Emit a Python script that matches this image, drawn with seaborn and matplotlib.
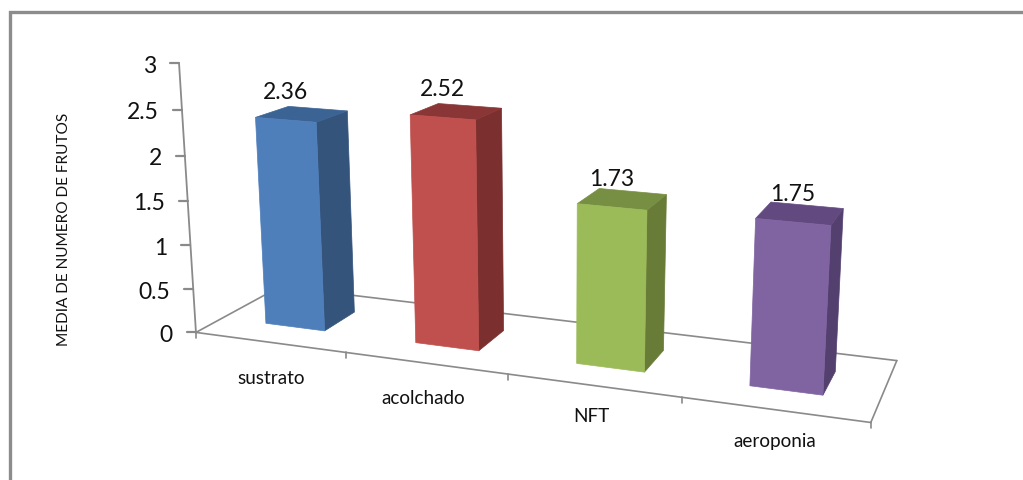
import numpy as np
import pandas as pd
import matplotlib
matplotlib.use("Agg")
import matplotlib.pyplot as plt
from matplotlib.patches import Polygon
from matplotlib.transforms import Transform
import seaborn as sns

# Chart data
categories = ["sustrato", "acolchado", "NFT", "aeroponia"]
values = [2.36, 2.52, 1.73, 1.75]
value_labels = ["2.36", "2.52", "1.73", "1.75"]
y_ticks = [0, 0.5, 1, 1.5, 2, 2.5, 3]
y_tick_labels = ["0", "0.5", "1", "1.5", "2", "2.5", "3"]
y_title = "MEDIA DE NUMERO DE FRUTOS"

# Face colours: front, side, top
front_colors = ["#4F7FBB", "#C0504D", "#9BBB59", "#8064A2"]
side_colors = ["#34547C", "#7C2F2F", "#687C38", "#54406F"]
top_colors = ["#3B6394", "#8A3636", "#778F42", "#624A80"]

# Perspective of the 3D box: (slot fraction, depth, value) -> canvas pixel
box_anchors = [
    ((0, 0, 0), (197, 334)),
    ((0, 0, 0), (197, 334)),
    ((0.25, 0, 0), (345, 354)),
    ((0.5, 0, 0), (506, 375)),
    ((0.75, 0, 0), (681, 398)),
    ((1, 0, 0), (872, 423)),
    ((1, 0, 0), (872, 423)),
    ((0, 1, 0), (280, 289)),
    ((1, 1, 0), (897, 360)),
    ((0, 0, 3), (179, 63)),
    ((0, 0, 3), (179, 63)),
    ((0, 0, 1.5), (188, 201)),
    ((1, 0, 3), (888, 116)),
]


def fit_camera(anchors):
    rows, rhs = [], []
    for (u, d, v), (px, py) in anchors:
        rows.append([u, d, v, 1, 0, 0, 0, 0, -px * u, -px * d, -px * v])
        rhs.append(px)
        rows.append([0, 0, 0, 0, u, d, v, 1, -py * u, -py * d, -py * v])
        rhs.append(py)
    sol = np.linalg.lstsq(np.array(rows, float), np.array(rhs, float), rcond=None)[0]
    return np.append(sol, 1.0).reshape(3, 4)


CAMERA = fit_camera(box_anchors)
N = len(categories)
DEPTH_FRONT, DEPTH_BACK = 0.30, 0.69


def project(c, d, v):
    """Category position, depth and value to canvas pixels."""
    c = np.atleast_1d(np.asarray(c, float))
    u = (c + 0.5) / N
    pts = np.stack([u, np.full_like(u, d), np.asarray(v, float) * np.ones_like(u), np.ones_like(u)], axis=-1)
    q = pts @ CAMERA.T
    return q[..., :2] / q[..., 2:]


def project_one(c, d, v):
    return project(c, d, v)[0]


class DepthPlane(Transform):
    """Maps (category position, value) onto a plane at a fixed depth of the box."""
    input_dims = 2
    output_dims = 2
    is_affine = False

    def __init__(self, plane_depth):
        super().__init__()
        self.plane_depth = plane_depth

    def transform_non_affine(self, points):
        points = np.asarray(points, float)
        return project(points[:, 0], self.plane_depth, points[:, 1])


sns.set_theme(style="white")
plt.rcParams["font.family"] = ["Lato", "DejaVu Sans"]

fig = plt.figure(figsize=(10.23, 4.81), dpi=100, facecolor="white")
ax = fig.add_axes([0, 0, 1, 1])

table = pd.DataFrame({"category": categories, "value": values})
sns.barplot(data=table, x="category", y="value", hue="category", order=categories,
            hue_order=categories, palette=front_colors, saturation=1, width=0.40,
            linewidth=0, legend=False, ax=ax, zorder=4)

front_plane = DepthPlane(DEPTH_FRONT) + ax.transData
line_grey = "#8A8A8A"

# Outer chart frame, open at the right and the bottom
ax.plot([10, 10, 1023], [481, 13, 13], color="#8C8C8C", lw=2.4, solid_joinstyle="miter", zorder=1)


def floor_line(a, b):
    pts = np.array([project_one(a[0], a[1], 0), project_one(b[0], b[1], 0)])
    ax.plot(pts[:, 0], pts[:, 1], color=line_grey, lw=1.2, zorder=2)


# Floor outline
left, right = -0.5, N - 0.5
floor_line((left, 0), (right, 0))
floor_line((left, 0), (left, 1))
floor_line((left, 1), (right, 1))
floor_line((right, 0), (right, 1))

# Category boundary ticks and labels
label_nudges = [(1, 35), (-2, 34), (-2, 30), (0, 31)]
for i in range(N + 1):
    px, py = project_one(i - 0.5, 0, 0)
    ax.plot([px, px], [py, py + 6], color=line_grey, lw=1.2, zorder=2)
for i, name in enumerate(categories):
    px, py = project_one(i, 0, 0)
    dx, dy = label_nudges[i]
    ax.text(px + dx, py + dy, name, ha="center", va="center", fontsize=13.6, color="#111111")

# Value axis with ticks and labels
axis_pts = np.array([project_one(left, 0, t) for t in y_ticks])
ax.plot(axis_pts[:, 0], axis_pts[:, 1], color=line_grey, lw=1.3, zorder=2)
for (px, py), label in zip(axis_pts, y_tick_labels):
    ax.plot([px - 9, px], [py, py], color=line_grey, lw=1.6, zorder=2)
    ax.text(px - 23, py + 2, label, ha="right", va="center", fontsize=16.5, color="#111111")

ax.text(64, 229, y_title, rotation=90, ha="center", va="center", fontsize=11.1, color="#111111")

# Turn the flat bars into boxes: skew the front face, add side and top faces
for i, bar in enumerate(ax.patches):
    x0, w, h = bar.get_x(), bar.get_width(), bar.get_height()
    x1 = x0 + w
    bar.set_transform(front_plane)
    bar.set_clip_on(False)
    bar.set_edgecolor(front_colors[i])
    bar.set_linewidth(0.5)
    side = np.array([
        project_one(x1, DEPTH_FRONT, 0),
        project_one(x1, DEPTH_BACK, 0),
        project_one(x1, DEPTH_BACK, h),
        project_one(x1, DEPTH_FRONT, h),
    ])
    top = np.array([
        project_one(x0, DEPTH_FRONT, h),
        project_one(x1, DEPTH_FRONT, h),
        project_one(x1, DEPTH_BACK, h),
        project_one(x0, DEPTH_BACK, h),
    ])
    ax.add_patch(Polygon(side, closed=True, facecolor=side_colors[i], edgecolor=side_colors[i], lw=0.5, zorder=3))
    ax.add_patch(Polygon(top, closed=True, facecolor=top_colors[i], edgecolor=top_colors[i], lw=0.5, zorder=3))
    cx, cy = project_one(x0 + w / 2, DEPTH_FRONT, h)
    ax.text(cx, cy - 28.5, value_labels[i], ha="center", va="center", fontsize=16.5, color="#111111", zorder=5)

ax.set_xlim(0, 1023)
ax.set_ylim(481, 0)
ax.axis("off")

fig.savefig("out.png", dpi=100, facecolor="white")
